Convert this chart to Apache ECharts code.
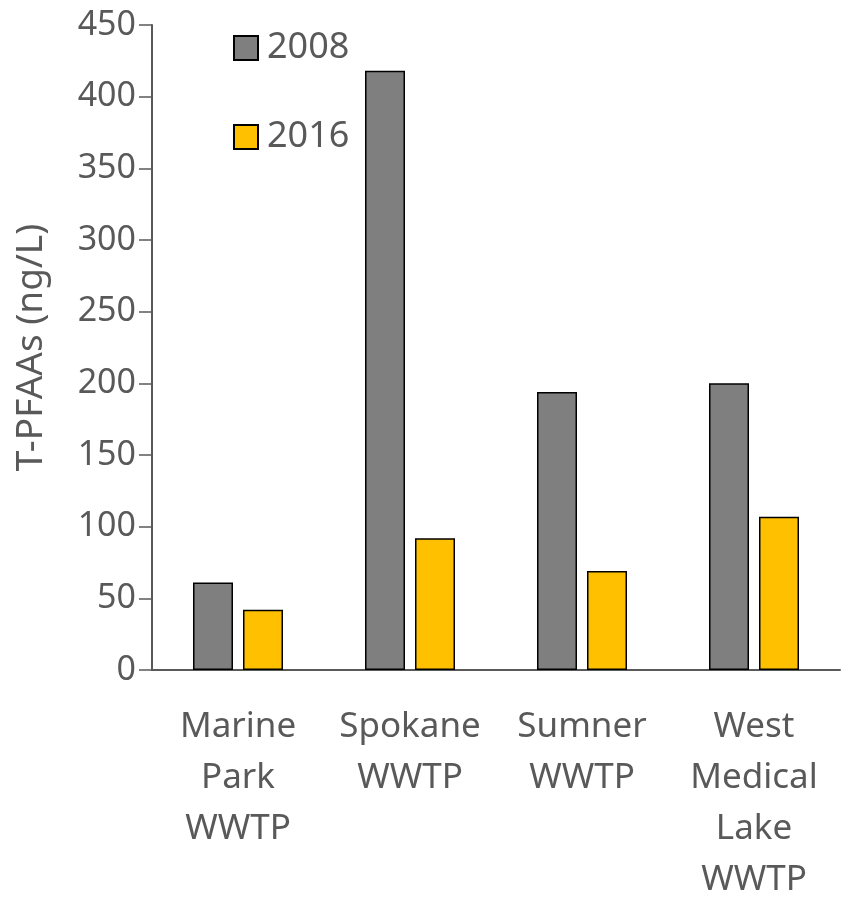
<!DOCTYPE html>
<html>
<head>
<meta charset="utf-8">
<script src="https://cdn.jsdelivr.net/npm/echarts@6/dist/echarts.min.js"></script>
<style>
  html, body { margin: 0; padding: 0; background: #fff; }
</style>
</head>
<body>
<div id="myChart" style="width: 842px; height: 898px"></div>
<script>
var categories = ['Marine\nPark\nWWTP', 'Spokane\nWWTP', 'Sumner\nWWTP', 'West\nMedical\nLake\nWWTP']
var values2008 = [61, 418, 194, 200]
var values2016 = [42, 92, 69, 107]
var yTicks = [0, 50, 100, 150, 200, 250, 300, 350, 400, 450]

var chartDom = document.getElementById('myChart')
var myChart = echarts.init(chartDom)
var textColor = '#595959'
var font = 'Noto Sans'
var option = {
  animation: false,
  grid: {
    left: 152,
    right: 2,
    top: 25,
    bottom: 228,
    outerBoundsMode: 'none',
    containLabel: false
  },
  legend: {
    orient: 'vertical',
    left: 228,
    top: 23,
    itemWidth: 24,
    itemHeight: 24,
    itemGap: 49,
    icon: 'rect',
    textStyle: {
      fontFamily: font,
      fontSize: 36,
      color: textColor,
      lineHeight: 40,
      padding: [0, 0, 0, 4]
    },
    data: ['2008', '2016']
  },
  xAxis: {
    type: 'category',
    data: categories,
    axisLine: { lineStyle: { color: textColor, width: 2 } },
    axisTick: { show: false },
    axisLabel: {
      interval: 0,
      margin: 32,
      fontFamily: font,
      fontSize: 35,
      lineHeight: 51,
      color: textColor
    }
  },
  yAxis: {
    type: 'value',
    min: yTicks[0],
    max: yTicks[yTicks.length - 1],
    interval: 50,
    name: 'T-PFAAs (ng/L)',
    nameLocation: 'middle',
    nameGap: 102,
    nameRotate: 90,
    nameTextStyle: {
      fontFamily: font,
      fontSize: 37,
      color: textColor
    },
    splitLine: { show: false },
    axisLine: { show: true, lineStyle: { color: textColor, width: 2 } },
    axisTick: { show: true, length: 13, lineStyle: { color: textColor, width: 1.5 } },
    axisLabel: {
      margin: 16,
      fontFamily: font,
      fontSize: 34,
      color: textColor
    }
  },
  series: [
    {
      name: '2008',
      type: 'bar',
      data: values2008,
      barWidth: 40,
      barGap: '25%',
      itemStyle: { color: '#7f7f7f', borderColor: '#000', borderWidth: 1.5 }
    },
    {
      name: '2016',
      type: 'bar',
      data: values2016,
      barWidth: 40,
      itemStyle: { color: '#ffc000', borderColor: '#000', borderWidth: 1.5 }
    }
  ]
}
myChart.setOption(option)
</script>
</body>
</html>
